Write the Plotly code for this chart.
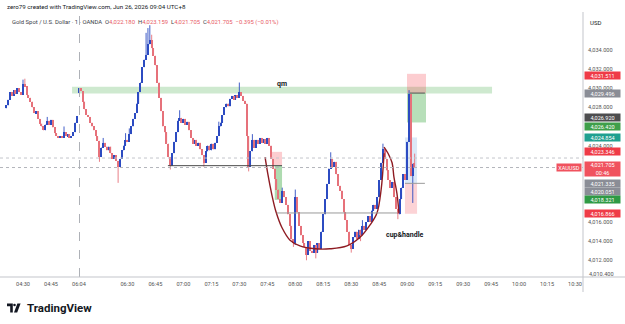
import plotly.graph_objects as go

# ---------------- data ----------------
first_index = -9          # bar index of first visible candle (04:21)
first_open = 4027.9
closes = [
    4028.2, 4028.8, 4029.6, 4029.2, 4029.8, 4029.4, 4030.0, 4029.6, 4029.3,          # -9..-1
    4030.4, 4030.2, 4029.3, 4029.0, 4028.6, 4028.0, 4027.4, 4027.6, 4026.8, 4026.3,  # 0..9
    4026.0, 4025.6, 4026.2, 4026.6, 4026.2, 4026.7, 4025.9, 4025.3, 4025.0, 4024.8,  # 10..19
    4025.0, 4024.8, 4025.4, 4025.0, 4025.2, 4024.8, 4025.0, 4025.4, 4026.4, 4027.1,  # 20..29
    4030.0, 4029.7, 4028.6, 4027.8, 4027.2, 4027.0, 4026.4, 4026.0, 4025.6, 4025.0,  # 30..39
    4024.5, 4022.8, 4023.8, 4024.3, 4023.9, 4023.5, 4023.9, 4023.2, 4022.6, 4023.0,  # 40..49
    4022.4, 4021.8, 4022.6, 4023.5, 4024.0, 4024.6, 4024.4, 4025.2, 4026.0, 4026.8,  # 50..59
    4027.4, 4028.4, 4029.6, 4030.6, 4032.2, 4033.0, 4033.5, 4034.6, 4035.0, 4034.2,  # 60..69
    4033.4, 4032.4, 4030.6, 4029.0, 4027.6, 4026.0, 4025.4, 4024.2, 4022.8, 4021.9,  # 70..79
    4023.2, 4024.4, 4025.4, 4026.6, 4026.9, 4026.4, 4026.8, 4026.2, 4026.5, 4025.6,  # 80..89
    4024.8, 4024.2, 4024.6, 4024.0, 4024.3, 4023.6, 4023.0, 4022.2, 4023.4, 4024.0,  # 90..99
    4023.5, 4024.2, 4023.6, 4024.3, 4025.0, 4026.0, 4026.4, 4027.2, 4028.0, 4028.4,  # 100..109
    4028.1, 4028.9, 4029.2, 4028.8, 4029.3, 4029.0, 4029.6, 4029.2, 4028.7, 4028.4,  # 110..119
    4025.0, 4021.8, 4023.4, 4024.6, 4023.8, 4024.6, 4024.2, 4024.8, 4024.3, 4024.7,  # 120..129
    4024.2, 4024.8, 4024.0, 4022.6, 4021.6, 4020.5, 4019.4, 4018.4, 4018.0, 4019.2,  # 130..139
    4018.6, 4017.8, 4016.8, 4015.6, 4014.2, 4013.8, 4018.6, 4017.0, 4015.6, 4014.6,  # 140..149
    4013.8, 4013.4, 4012.6, 4014.0, 4013.0, 4012.8, 4013.6, 4012.8, 4013.8, 4013.2,  # 150..159
    4015.0, 4016.8, 4018.4, 4020.0, 4021.6, 4022.6, 4021.8, 4022.3, 4021.0, 4019.8,  # 160..169
    4019.3, 4018.4, 4017.0, 4016.2, 4015.0, 4013.6, 4013.2, 4014.4, 4015.0, 4014.2,  # 170..179
    4015.2, 4014.6, 4015.6, 4015.2, 4016.0, 4016.6, 4016.0, 4017.2, 4017.8, 4017.4,  # 180..189
    4018.6, 4020.4, 4022.2, 4023.6, 4022.6, 4021.4, 4020.4, 4019.6, 4020.2, 4018.6,  # 190..199
    4017.4, 4016.8, 4018.4, 4019.6, 4021.0, 4020.4, 4024.4, 4029.4, 4020.8, 4022.10, # 200..209
    4021.705,                                                                          # 210
]
open_overrides = {30: 4029.5, 210: 4022.18}
high_overrides = {0: 4030.9, 1: 4031.0, 13: 4027.0, 22: 4026.0, 43: 4024.8, 55: 4025.3,
                  57: 4025.8, 66: 4035.8, 67: 4036.3, 68: 4036.6, 69: 4035.6, 84: 4027.7,
                  105: 4026.5, 116: 4030.6, 123: 4025.2, 139: 4019.6, 146: 4019.4,
                  165: 4023.3, 182: 4016.2, 193: 4024.2, 207: 4029.8, 210: 4023.159}
low_overrides = {41: 4022.3, 51: 4020.1, 79: 4021.5, 97: 4021.8, 121: 4021.3, 145: 4013.4,
                 146: 4013.6, 152: 4012.0, 157: 4012.2, 176: 4012.8, 181: 4014.0,
                 201: 4016.3, 209: 4018.0, 210: 4021.705}

time_labels = ["04:30", "04:45", "06:04", "06:30", "06:45", "07:00", "07:15", "07:30",
               "07:45", "08:00", "08:15", "08:30", "08:45", "09:00", "09:15", "09:30",
               "09:45", "10:00", "10:15", "10:30"]
price_ticks = [4012, 4014, 4016, 4018, 4020, 4022, 4024, 4026, 4028, 4030, 4032, 4034]
covered_ticks = [4018, 4020, 4022, 4026]   # hidden behind the coloured price tags

qm_zone = [4029.45, 4030.15]
short_a = [4031.511, 4029.496, 4026.420]      # stop, entry, target
long_b = [4024.854, 4020.051, 4016.866]       # target, entry, stop
short_c = [4023.346, 4021.90, 4018.321]       # stop, entry, target
neckline = 4021.90
handle_base = 4016.95
last_price = 4021.705
prev_level = 4022.70

cup_x = [129.8, 131.4, 133.5, 135.7, 138.9, 143.2, 148.5, 156.6, 164.6, 173.7, 180.7,
         186.1, 189.8, 192.0, 193.6]
cup_y = [4022.8, 4020.9, 4018.8, 4017.05, 4015.4, 4014.1, 4013.5, 4013.2, 4013.2, 4013.5,
         4014.4, 4015.7, 4016.95, 4019.35, 4023.2]
handle_x = [193.6, 195.7, 197.9, 198.9, 200.5, 201.6]
handle_y = [4023.85, 4023.2, 4022.2, 4020.7, 4019.0, 4016.95]

right_labels = [  # text, label price position, colour, box height
    ("4,031.511", 4031.36, "#ef3b47", 7),
    ("4,029.496", 4029.496, "#8a8d96", 7),
    ("4,026.920", 4026.92, "#4d4d4f", 7),
    ("4,026.420", 4025.98, "#3f9f4a", 7),
    ("4,024.854", 4024.854, "#1fa090", 7),
    ("4,023.346", 4023.346, "#ef3b47", 7),
    ("4,021.705<br>00:46", 4021.60, "#f0525e", 14),
    ("4,021.335", 4020.08, "#8a8d96", 7),
    ("4,020.051", 4019.22, "#8a8d96", 7),
    ("4,018.321", 4018.321, "#2f9a45", 7),
    ("4,016.866", 4016.866, "#ef3b47", 7),
]

# ---------------- derived candles ----------------
UP, DOWN = "#2d4cc2", "#e6727b"
n = len(closes)
idx = [first_index + k for k in range(n)]
opens, highs, lows = [], [], []
for k, i in enumerate(idx):
    o = first_open if k == 0 else closes[k - 1]
    o = open_overrides.get(i, o)
    c = closes[k]
    opens.append(o)
    highs.append(high_overrides.get(i, max(o, c)))
    lows.append(low_overrides.get(i, min(o, c)))


def t2i(t):
    h, m = map(int, t.split(":"))
    mins = h * 60 + m
    return mins - 270 if mins < 300 else mins - 364 + 30


W, H = 625, 324
PL, PR, PT, PB = 0, 583, 14, 277
X0, X1 = -12.33, 300.27
Y0, Y1 = 4010.25, 4037.77


def xp(px):
    return (px - PL) / (PR - PL)


def yp(py):
    return (PB - py) / (PB - PT)


fig = go.Figure()

for up in (True, False):
    sel = [k for k in range(n) if (closes[k] >= opens[k]) == up]
    col = UP if up else DOWN
    wx, wy = [], []
    for k in sel:
        wx += [idx[k], idx[k], None]
        wy += [lows[k], highs[k], None]
    fig.add_trace(go.Scatter(x=wx, y=wy, mode="lines", line=dict(color=col, width=0.9),
                             hoverinfo="skip", showlegend=False))
    fig.add_trace(go.Bar(x=[idx[k] for k in sel],
                         y=[max(abs(closes[k] - opens[k]), 0.08) for k in sel],
                         base=[min(closes[k], opens[k]) for k in sel],
                         width=0.72, marker=dict(color=col, line=dict(width=0)),
                         hoverinfo="skip", showlegend=False))

# cup & handle curves
fig.add_trace(go.Scatter(x=cup_x, y=cup_y, mode="lines", line=dict(color="#8e1b22", width=1.4, shape="spline"),
                         hoverinfo="skip", showlegend=False))
fig.add_trace(go.Scatter(x=handle_x, y=handle_y, mode="lines", line=dict(color="#8e1b22", width=1.4, shape="spline"),
                         hoverinfo="skip", showlegend=False))

shapes = []
# qm zone
shapes.append(dict(type="rect", xref="x", yref="y", x0=26.3, x1=251.5, y0=qm_zone[0], y1=qm_zone[1],
                   fillcolor="rgba(102,187,106,0.32)", line=dict(width=0), layer="below"))
# position A (short)
shapes.append(dict(type="rect", xref="x", yref="y", x0=205.9, x1=216.1, y0=short_a[1], y1=short_a[0],
                   fillcolor="rgba(242,54,69,0.25)", line=dict(width=0), layer="below"))
shapes.append(dict(type="rect", xref="x", yref="y", x0=205.9, x1=216.1, y0=short_a[2], y1=short_a[1],
                   fillcolor="rgba(76,175,80,0.40)", line=dict(width=0), layer="below"))
shapes.append(dict(type="line", xref="x", yref="y", x0=207.5, x1=215.5, y0=short_a[1], y1=short_a[1],
                   line=dict(color="#555", width=1)))
# position B (long)
shapes.append(dict(type="rect", xref="x", yref="y", x0=204.8, x1=211.3, y0=long_b[1], y1=long_b[0],
                   fillcolor="rgba(90,150,220,0.22)", line=dict(width=0), layer="below"))
shapes.append(dict(type="rect", xref="x", yref="y", x0=204.8, x1=211.3, y0=long_b[2], y1=long_b[1],
                   fillcolor="rgba(242,54,69,0.22)", line=dict(width=0), layer="below"))
shapes.append(dict(type="line", xref="x", yref="y", x0=204.8, x1=215.5, y0=long_b[1], y1=long_b[1],
                   line=dict(color="#9a9a9a", width=1)))
# position C (short)
shapes.append(dict(type="rect", xref="x", yref="y", x0=133.5, x1=138.9, y0=short_c[1], y1=short_c[0],
                   fillcolor="rgba(242,54,69,0.25)", line=dict(width=0), layer="below"))
shapes.append(dict(type="rect", xref="x", yref="y", x0=135.0, x1=138.9, y0=short_c[2], y1=short_c[1],
                   fillcolor="rgba(76,175,80,0.45)", line=dict(width=0), layer="below"))
# horizontal levels
shapes.append(dict(type="line", xref="x", yref="y", x0=77.7, x1=138.9, y0=neckline, y1=neckline,
                   line=dict(color="#4a4a4a", width=1)))
shapes.append(dict(type="line", xref="x", yref="y", x0=136.0, x1=201.0, y0=handle_base, y1=handle_base,
                   line=dict(color="#9a9a9a", width=1)))
shapes.append(dict(type="line", xref="paper", yref="y", x0=0, x1=1, y0=prev_level, y1=prev_level,
                   line=dict(color="#c4c6cc", width=1, dash="dot")))
shapes.append(dict(type="line", xref="paper", yref="y", x0=0, x1=1, y0=last_price, y1=last_price,
                   line=dict(color="#b3b5bb", width=1, dash="dot")))
# session break
shapes.append(dict(type="line", xref="x", yref="paper", x0=30.3, x1=30.3, y0=0, y1=yp(13),
                   line=dict(color="#aeb1b7", width=1, dash="dash")))
# frame lines
shapes.append(dict(type="line", xref="paper", yref="paper", x0=0, x1=xp(W), y0=0, y1=0,
                   line=dict(color="#c3c5cb", width=1)))
shapes.append(dict(type="line", xref="paper", yref="paper", x0=1, x1=1, y0=yp(292), y1=yp(12),
                   line=dict(color="#c3c5cb", width=1)))
# TradingView logo
def path(pts):
    return "M" + " L".join(f"{xp(a):.5f},{yp(b):.5f}" for a, b in pts) + " Z"

shapes.append(dict(type="path", xref="paper", yref="paper",
                   path=path([(7, 303.5), (12.8, 303.5), (12.8, 312.5), (10.2, 312.5), (10.2, 306.2), (7, 306.2)]),
                   fillcolor="#131722", line=dict(width=0)))
shapes.append(dict(type="circle", xref="paper", yref="paper", x0=xp(13.2), x1=xp(15.8), y0=yp(306.3), y1=yp(303.7),
                   fillcolor="#131722", line=dict(width=0)))
shapes.append(dict(type="path", xref="paper", yref="paper",
                   path=path([(17.4, 303.5), (20.6, 303.5), (17.2, 312.5), (14.0, 312.5)]),
                   fillcolor="#131722", line=dict(width=0)))

FONT = "Roboto, Open Sans, sans-serif"
ann = []
ann.append(dict(xref="paper", yref="paper", x=xp(5), y=yp(7.5), xanchor="left", yanchor="middle", showarrow=False,
                text="zero79 created with TradingView.com, Jun 26, 2026 09:04 UTC+8",
                font=dict(family=FONT, size=6.2, color="#131722")))
R = "#e85b66"
ann.append(dict(xref="paper", yref="paper", x=xp(10), y=yp(23), xanchor="left", yanchor="middle", showarrow=False,
                text=("Gold Spot / U.S. Dollar · 1 · OANDA  "
                      f"O<span style='color:{R}'>4,022.180</span>  H<span style='color:{R}'>4,023.159</span>  "
                      f"L<span style='color:{R}'>4,021.705</span>  C<span style='color:{R}'>4,021.705</span>  "
                      f"<span style='color:{R}'>−0.395 (−0.01%)</span>"),
                font=dict(family=FONT, size=5.9, color="#3b3e48")))
ann.append(dict(xref="x", yref="y", x=138.9, y=4030.45, showarrow=False, text="<b>qm</b>",
                font=dict(family=FONT, size=7, color="#131722")))
ann.append(dict(xref="x", yref="y", x=204.8, y=4014.6, showarrow=False, text="<b>cup&handle</b>",
                font=dict(family=FONT, size=7, color="#131722")))
ann.append(dict(xref="paper", yref="paper", x=xp(588), y=yp(23), xanchor="left", yanchor="middle", showarrow=False,
                text="USD", font=dict(family=FONT, size=6, color="#131722")))
ann.append(dict(xref="paper", yref="paper", x=xp(587), y=yp(274), xanchor="left", yanchor="middle", showarrow=False,
                text="4,010.400", font=dict(family=FONT, size=5.6, color="#555")))
for text, pos, col, hgt in right_labels:
    ann.append(dict(xref="paper", yref="y", x=xp(584), y=pos, xanchor="left", yanchor="middle", showarrow=False,
                    text=text, bgcolor=col, borderpad=0, width=35, height=hgt, align="center", valign="middle",
                    font=dict(family=FONT, size=5.5, color="white")))
ann.append(dict(xref="paper", yref="y", x=xp(582), y=last_price, xanchor="right", yanchor="middle", showarrow=False,
                text="XAUUSD", bgcolor="#f0525e", borderpad=0, width=24, height=7,
                font=dict(family=FONT, size=5.5, color="white")))
ann.append(dict(xref="paper", yref="paper", x=xp(25), y=yp(308), xanchor="left", yanchor="middle", showarrow=False,
                text="<b>TradingView</b>", font=dict(family=FONT, size=11.5, color="#131722")))

fig.update_layout(
    width=W, height=H, margin=dict(l=PL, r=W - PR, t=PT, b=H - PB),
    paper_bgcolor="white", plot_bgcolor="white", barmode="overlay", bargap=0,
    showlegend=False, shapes=shapes, annotations=ann,
    font=dict(family=FONT),
    xaxis=dict(range=[X0, X1], showgrid=False, zeroline=False, showline=False,
               tickvals=[t2i(t) for t in time_labels], ticktext=time_labels, ticks="",
               tickfont=dict(size=5.6, color="#555"), ticklabelstandoff=2, fixedrange=True),
    yaxis=dict(range=[Y0, Y1], side="right", showgrid=False, zeroline=False, showline=False,
               tickvals=price_ticks,
               ticktext=["" if v in covered_ticks else f"{v:,.3f}" for v in price_ticks], ticks="",
               tickfont=dict(size=5.6, color="#555"), ticklabelstandoff=4, fixedrange=True),
)

fig.write_html("out.html")
